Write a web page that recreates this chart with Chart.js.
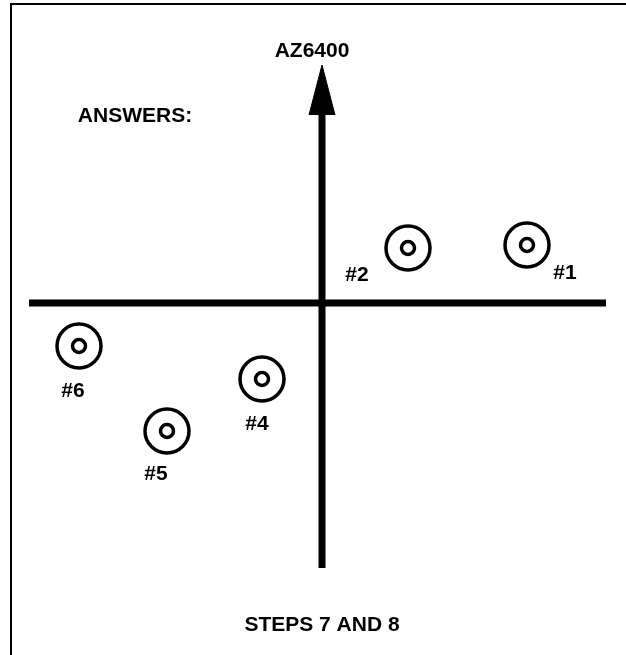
<!DOCTYPE html>
<html>
<head>
<meta charset="utf-8">
<script src="https://cdn.jsdelivr.net/npm/chart.js@4.4.1/dist/chart.umd.min.js"></script>
<style>
    html, body { margin: 0; padding: 0; background: #fff; }
    #wrap { position: relative; width: 626px; height: 655px; }
    #frame {
        position: absolute; left: 10px; top: 3px; right: 0; bottom: 0;
        border-top: 2px solid #000; border-left: 2px solid #000;
        pointer-events: none;
    }
    canvas { position: absolute; left: 0; top: 0; }
</style>
</head>
<body>
<div id="wrap">
    <canvas id="chartTargets" width="626" height="655"></canvas>
    <div id="frame"></div>
</div>
<script>
// ── Datos (origen = cruce de ejes) ──
const targetLabels = ['#1', '#2', '#4', '#5', '#6'];
const targetX      = [205, 86, -60, -155, -243];
const targetY      = [58, 55, -76, -128, -43];
const labelX       = [243, 35, -65, -166, -249];
const labelY       = [30, 28, -121, -171, -88];

const axisXRange   = [-293, 284];
const axisYRange   = [-265, 190];
const arrowHead    = [[-13, 188], [0, 238], [13, 188]];

const notes = [
    { text: 'AZ6400',        x: -10,  y: 252 },
    { text: 'ANSWERS:',      x: -187, y: 187 },
    { text: 'STEPS 7 AND 8', x: 0,    y: -322 }
];

const font = { family: '"Liberation Sans", Arial, sans-serif', size: 21, weight: 'bold' };

const targets = targetX.map((x, i) => ({ x, y: targetY[i] }));

// ── Textos sobre la escala ──
const textPlugin = {
    id: 'textPlugin',
    afterDatasetsDraw(chart) {
        const { ctx, scales: { x, y } } = chart;
        ctx.save();
        ctx.fillStyle = '#000';
        ctx.textAlign = 'center';
        ctx.textBaseline = 'middle';
        ctx.font = `${font.weight} ${font.size}px ${font.family}`;
        targetLabels.forEach((t, i) => {
            ctx.fillText(t, x.getPixelForValue(labelX[i]), y.getPixelForValue(labelY[i]));
        });
        notes.forEach(n => ctx.fillText(n.text, x.getPixelForValue(n.x), y.getPixelForValue(n.y)));
        ctx.restore();
    }
};

// order: menor = encima
new Chart(document.getElementById('chartTargets'), {
    type: 'scatter',
    data: {
        datasets: [
            {
                order: 5,
                data: [{ x: axisXRange[0], y: 0 }, { x: axisXRange[1], y: 0 }],
                showLine: true, borderColor: '#000', borderWidth: 7,
                borderCapStyle: 'butt', pointRadius: 0
            },
            {
                order: 4,
                data: [{ x: 0, y: axisYRange[0] }, { x: 0, y: axisYRange[1] }],
                showLine: true, borderColor: '#000', borderWidth: 7,
                borderCapStyle: 'butt', pointRadius: 0
            },
            {
                order: 3,
                data: arrowHead.map(p => ({ x: p[0], y: p[1] })),
                showLine: true, borderColor: '#000', borderWidth: 1,
                backgroundColor: '#000', fill: { value: arrowHead[0][1] }, pointRadius: 0
            },
            {
                order: 2,
                data: targets,
                pointRadius: 22, borderWidth: 3.5,
                borderColor: '#000', backgroundColor: '#fff'
            },
            {
                order: 1,
                data: targets,
                pointRadius: 6.5, borderWidth: 3.5,
                borderColor: '#000', backgroundColor: '#fff'
            }
        ]
    },
    options: {
        responsive: false,
        animation: false,
        events: [],
        layout: { padding: 0, autoPadding: false },
        plugins: { legend: { display: false }, tooltip: { enabled: false } },
        scales: {
            x: { type: 'linear', min: -322, max: 304, display: false },
            y: { type: 'linear', min: -352, max: 303, display: false }
        }
    },
    plugins: [textPlugin]
});
</script>
</body>
</html>
